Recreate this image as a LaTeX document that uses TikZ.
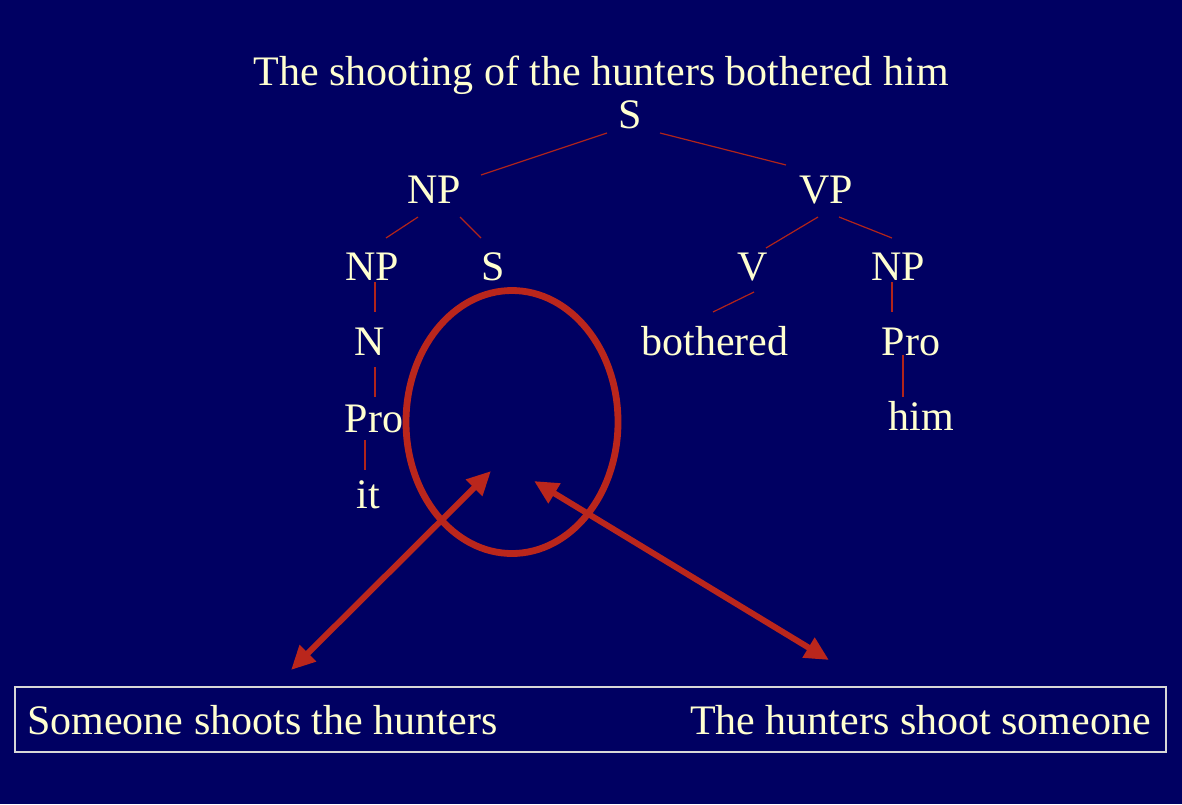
\documentclass[tikz,border=0pt]{standalone}
\usepackage{fontspec}
\setmainfont{Liberation Serif}
\usetikzlibrary{arrows.meta,calc,shapes.geometric}
\definecolor{bgblue}{RGB}{0,0,98}
\definecolor{cream}{RGB}{255,255,208}
\definecolor{edgered}{RGB}{178,36,26}
\definecolor{markred}{RGB}{186,38,28}
\definecolor{boxgray}{RGB}{215,215,215}
\tikzset{
  lbl/.style={text=cream, inner sep=0pt, anchor=base, font=\fontsize{42pt}{50pt}\selectfont},
  edge/.style={draw=edgered, line width=1.2pt},
  bigarrow/.style={draw=markred, line width=6pt,
    {Triangle[length=24pt,width=22pt]}-{Triangle[length=24pt,width=22pt]}},
  ring/.style={draw=markred, line width=6.8pt, ellipse, inner sep=0pt}
}
\begin{document}
\begin{tikzpicture}[x=1pt,y=-1pt]
\fill[bgblue] (0,0) rectangle (1182,804);
\useasboundingbox (0,0) rectangle (1182,804);

% texts
\node[lbl] (title) at (601,85) {The shooting of the hunters bothered him};
\node[lbl] (S0) at (630,128) {S};
\node[lbl] (NP1) at (434,203) {NP};
\node[lbl] (VP) at (826,203) {VP};
\node[lbl] (NP2) at (372,280) {NP};
\node[lbl] (S2) at (493,280) {S};
\node[lbl] (V) at (753,280) {V};
\node[lbl] (NP3) at (898,280) {NP};
\node[lbl] (N) at (370,355) {N};
\node[lbl] (both) at (715,355) {bothered};
\node[lbl] (Pro2) at (911,355) {Pro};
\node[lbl] (Pro1) at (374,432) {Pro};
\node[lbl] (him) at (921,430) {him};
\node[lbl] (it) at (368,508) {it};

% tree edges
\draw[edge] ($(S0.base)+(-23,5)$) -- ($(NP1.base)+(47,-28)$);
\draw[edge] ($(S0.base)+(30,5)$) -- ($(VP.base)+(-40,-38)$);
\draw[edge] ($(NP1.base)+(-16,14)$) -- ($(NP2.base)+(14,-42)$);
\draw[edge] ($(NP1.base)+(26,14)$) -- ($(S2.base)+(-12,-42)$);
\draw[edge] ($(VP.base)+(-8,14)$) -- ($(V.base)+(13,-32)$);
\draw[edge] ($(VP.base)+(13,14)$) -- ($(NP3.base)+(-6,-42)$);
\draw[edge] ($(V.base)+(1,12)$) -- ($(both.base)+(-2,-43)$);
\draw[edge] ($(NP3.base)+(-6,2)$) -- ($(Pro2.base)+(-19,-43)$);
\draw[edge] ($(Pro2.base)+(-8,0)$) -- ($(him.base)+(-18,-33)$);
\draw[edge] ($(NP2.base)+(3,2)$) -- ($(N.base)+(5,-43)$);
\draw[edge] ($(N.base)+(5,12)$) -- ($(Pro1.base)+(1,-35)$);
\draw[edge] ($(Pro1.base)+(-9,8)$) -- ($(it.base)+(-3,-38)$);

% ellipse
\node[ring, minimum width=212pt, minimum height=263pt] (ring) at (512,422) {};

% arrows
\coordinate (a1) at (491,471);
\coordinate (a2) at (291,670);
\coordinate (b1) at (534,481);
\coordinate (b2) at (829,660);
\draw[bigarrow] (a1) -- (a2);
\draw[bigarrow] (b1) -- (b2);

% bottom box
\node[draw=boxgray, line width=1.5pt, minimum width=1151pt, minimum height=65pt, inner sep=0pt] (box) at (590.5,719.5) {};
\node[lbl, anchor=base west] (left) at (27,734) {Someone shoots the hunters};
\node[lbl, anchor=base east] (right) at (1151,734) {The hunters shoot someone};
\end{tikzpicture}
\end{document}
